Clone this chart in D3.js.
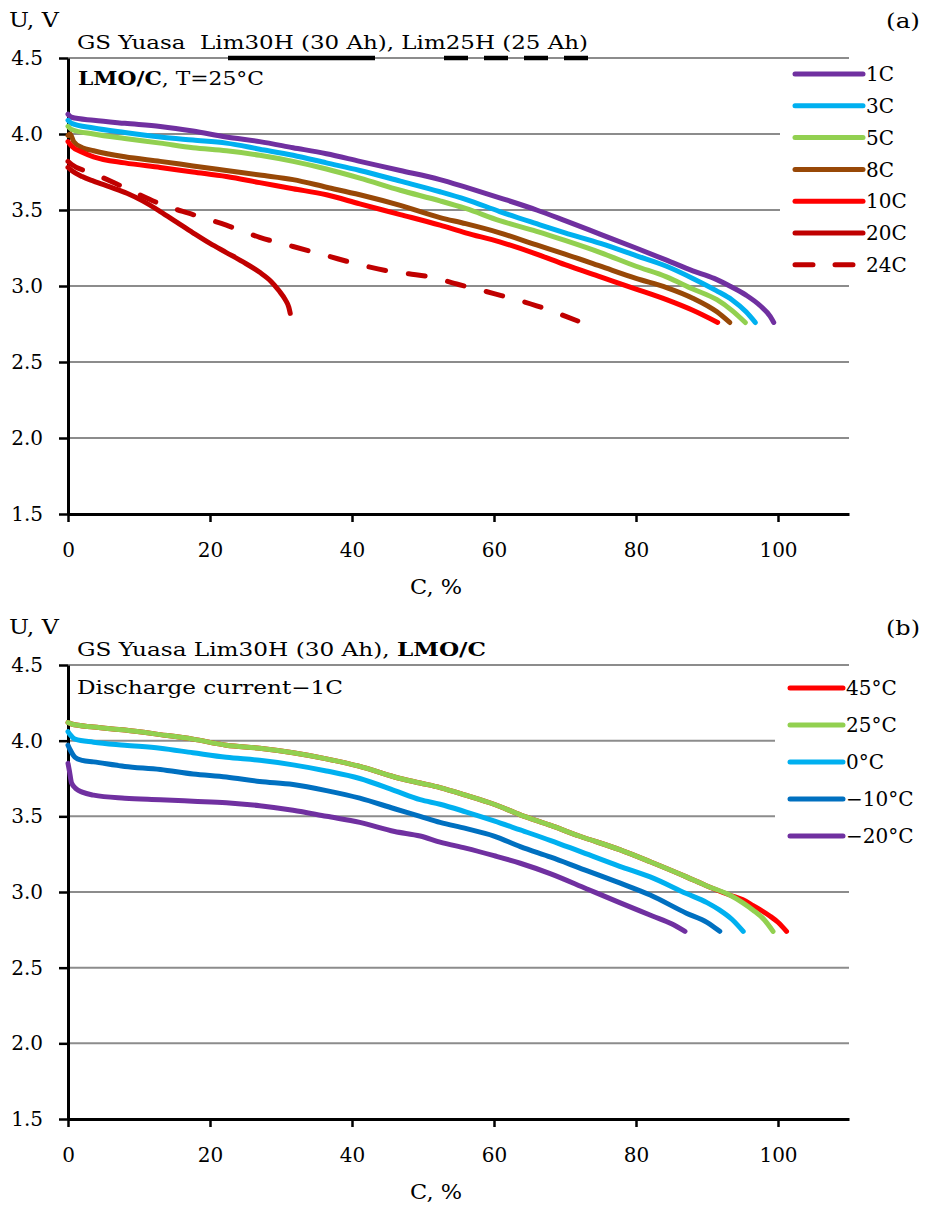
<!DOCTYPE html>
<html><head><meta charset="utf-8">
<script src="https://cdn.jsdelivr.net/npm/d3@7"></script>
<style>
html,body{margin:0;padding:0;background:#fff;}
text{font-family:"DejaVu Serif",serif;fill:#000;}
</style></head>
<body><div id="chart"></div>
<script>
// ---------- data ----------
const xTicks = [0, 20, 40, 60, 80, 100];
const yTicks = [1.5, 2.0, 2.5, 3.0, 3.5, 4.0, 4.5];

// Panel (a): discharge rate, T = 25°C
const rateLabels = ["1C", "3C", "5C", "8C", "10C", "20C", "24C"];
const rateColors = ["#7030A0", "#00B0F0", "#92D050", "#984807", "#FF0000", "#C00000", "#C00000"];
const rateDashed = [false, false, false, false, false, false, true];
const rate1C = [[0,4.13],[0.5,4.11],[3.6,4.09],[8,4.07],[13,4.05],[17.6,4.02],[22.3,3.98],[27,3.95],[31.7,3.91],[36.4,3.87],[41.1,3.82],[46.8,3.76],[52.4,3.70],[56,3.65],[60.8,3.58],[66,3.50],[70,3.43],[75,3.34],[80,3.25],[84.3,3.17],[88,3.10],[91,3.05],[93.2,3.00],[95.5,2.94],[97.5,2.87],[98.9,2.80],[99.4,2.76]];
const rate3C = [[0,4.09],[0.5,4.07],[3.6,4.04],[8,4.01],[13,3.98],[17.6,3.96],[22.3,3.94],[27,3.90],[31.7,3.86],[36.4,3.81],[41.1,3.76],[46.8,3.69],[52.4,3.62],[56,3.57],[60.8,3.49],[66,3.41],[70,3.35],[75,3.28],[80,3.20],[84.3,3.13],[88,3.05],[91.3,2.97],[93.5,2.91],[95.5,2.83],[96.8,2.76]];
const rate5C = [[0,4.05],[0.5,4.03],[3.6,4.00],[8,3.97],[13,3.94],[17.6,3.91],[22.3,3.89],[27,3.86],[31.7,3.82],[36.4,3.77],[41.1,3.71],[46.8,3.63],[52.4,3.56],[56,3.51],[60.8,3.43],[66,3.36],[70,3.30],[75,3.22],[80,3.13],[84.3,3.06],[88,2.98],[91.4,2.91],[93.5,2.84],[95.4,2.76]];
const rate8C = [[0,3.99],[0.3,4.00],[0.8,3.95],[2,3.91],[3.6,3.89],[8,3.85],[13,3.82],[17.6,3.79],[22.3,3.76],[27,3.73],[31.7,3.70],[36.4,3.65],[41.1,3.60],[46.8,3.53],[52.4,3.45],[56,3.41],[60.8,3.35],[66,3.27],[70,3.21],[75,3.13],[80,3.05],[84.3,2.99],[88,2.92],[91.4,2.83],[93.2,2.76]];
const rate10C = [[0,3.95],[0.5,3.92],[2,3.88],[3.6,3.85],[8,3.81],[13,3.78],[17.6,3.75],[22.3,3.72],[27,3.68],[31.7,3.64],[36.4,3.60],[41.1,3.54],[46.8,3.47],[52.4,3.40],[56,3.35],[60.8,3.29],[66,3.21],[70,3.14],[75,3.06],[80,2.98],[84.3,2.91],[88,2.84],[91.5,2.76]];
const rate20C = [[0,3.78],[0.5,3.76],[2,3.72],[3.6,3.69],[6,3.65],[8.3,3.61],[10.5,3.56],[13,3.49],[15.3,3.42],[17.6,3.35],[20,3.28],[22.3,3.22],[24.6,3.16],[27,3.09],[28.6,3.03],[29.7,2.97],[30.6,2.91],[31.1,2.86],[31.3,2.82]];
const rate24C = [[0,3.82],[0.5,3.80],[3.6,3.74],[8.3,3.64],[13,3.54],[17.6,3.47],[22.3,3.40],[27,3.32],[31.7,3.26],[36.4,3.20],[41.1,3.14],[45,3.10],[48,3.08],[51,3.06],[55,3.01],[60,2.95],[66,2.87],[69,2.82],[71.8,2.77]];
const rateSeries = [rate1C, rate3C, rate5C, rate8C, rate10C, rate20C, rate24C];

// Panel (b): temperature, 1C discharge
const tempLabels = ["45°C", "25°C", "0°C", "−10°C", "−20°C"];
const tempColors = ["#FF0000", "#92D050", "#00B0F0", "#0070C0", "#7030A0"];
const temp45 = [[0,4.12],[0.5,4.11],[3.6,4.09],[8,4.07],[13,4.04],[17.6,4.01],[22.3,3.97],[27,3.95],[31.7,3.92],[36.4,3.88],[41.1,3.83],[46,3.76],[49.6,3.72],[52.4,3.69],[56,3.64],[60,3.58],[63.7,3.51],[68,3.44],[72,3.37],[77.7,3.28],[82,3.20],[87.1,3.10],[90,3.04],[93.2,2.98],[95,2.95],[96.5,2.91],[98.9,2.84],[100,2.80],[101.2,2.74]];
const temp25 = [[0,4.12],[0.5,4.11],[3.6,4.09],[8,4.07],[13,4.04],[17.6,4.01],[22.3,3.97],[27,3.95],[31.7,3.92],[36.4,3.88],[41.1,3.83],[46,3.76],[49.6,3.72],[52.4,3.69],[56,3.64],[60,3.58],[63.7,3.51],[68,3.44],[72,3.37],[77.7,3.28],[82,3.20],[87.1,3.10],[90,3.04],[93.2,2.98],[95,2.93],[96.5,2.88],[98,2.82],[99.3,2.74]];
const temp0 = [[0,4.06],[0.3,4.04],[1,4.01],[3.6,3.99],[8,3.97],[13,3.95],[17.6,3.92],[22.3,3.89],[27,3.87],[31.7,3.84],[36.4,3.80],[41.1,3.75],[46,3.67],[49.6,3.61],[52.4,3.58],[56,3.53],[60,3.47],[63.7,3.41],[68,3.34],[72,3.27],[77.7,3.17],[82,3.10],[87.1,2.99],[90,2.93],[91.8,2.88],[93.5,2.82],[95.1,2.74]];
const tempM10 = [[0,3.97],[0.3,3.94],[1,3.89],[2,3.87],[3.6,3.86],[8,3.83],[13,3.81],[17.6,3.78],[22.3,3.76],[27,3.73],[31.7,3.71],[36.4,3.67],[41.1,3.62],[46,3.55],[49.6,3.50],[52.4,3.46],[56,3.42],[60,3.37],[63.7,3.30],[68,3.23],[72,3.16],[77.7,3.06],[82,2.98],[87.1,2.86],[90,2.80],[91.8,2.74]];
const tempM20 = [[0,3.85],[0.2,3.80],[0.5,3.72],[1.2,3.68],[2,3.66],[3.6,3.64],[8,3.62],[13,3.61],[17.6,3.60],[22.3,3.59],[27,3.57],[31.7,3.54],[36.4,3.50],[41.1,3.46],[46,3.40],[49.6,3.37],[52.4,3.33],[56,3.29],[60,3.24],[63.7,3.19],[68,3.12],[73.1,3.02],[77.7,2.93],[82.4,2.84],[85,2.79],[86.9,2.74]];
const tempSeries = [temp45, temp25, temp0, tempM10, tempM20];

// ---------- drawing ----------
const W = 926, H = 1207;
const svg = d3.select("#chart").append("svg").attr("width", W).attr("height", H);
svg.append("rect").attr("width", W).attr("height", H).attr("fill", "#fff");

const X0 = 68, X1 = 849;

function drawPanel(cfg) {
  const g = svg.append("g");
  const x = d3.scaleLinear().domain([0, 110]).range([X0, X1]);
  const y = d3.scaleLinear().domain([1.5, 4.5]).range([cfg.bottom, cfg.top]);

  // gridlines
  g.selectAll(".grid").data(yTicks.filter(d => d > 1.5)).join("line")
    .attr("x1", X0).attr("x2", X1)
    .attr("y1", d => y(d)).attr("y2", d => y(d))
    .attr("stroke", "#8c8c8c").attr("stroke-width", 2);

  // legend background
  g.append("rect").attr("x", cfg.legBoxX).attr("y", cfg.top + 5)
    .attr("width", W - cfg.legBoxX).attr("height", cfg.legBoxH).attr("fill", "#fff");

  // axes
  const ya = g.append("g").attr("transform", `translate(${X0},0)`)
    .call(d3.axisLeft(y).tickValues(yTicks).tickFormat(d3.format(".1f")).tickSize(9).tickSizeOuter(0).tickPadding(16));
  const xa = g.append("g").attr("transform", `translate(0,${cfg.bottom})`)
    .call(d3.axisBottom(x).tickValues(xTicks).tickFormat(d3.format("d")).tickSize(8).tickSizeOuter(0).tickPadding(21));
  [ya, xa].forEach(a => {
    a.select(".domain").attr("stroke", "#000").attr("stroke-width", 3);
    a.selectAll(".tick line").attr("stroke", "#000").attr("stroke-width", 2.5);
    a.selectAll("text").attr("font-family", "DejaVu Serif").attr("font-size", 20).attr("fill", "#000");
  });

  // curves
  const line = d3.line().x(d => x(d[0])).y(d => y(d[1])).curve(d3.curveMonotoneX);
  cfg.series.forEach((s, i) => {
    g.append("path").datum(s).attr("d", line)
      .attr("fill", "none").attr("stroke", cfg.colors[i]).attr("stroke-width", 5)
      .attr("stroke-linecap", "round").attr("stroke-linejoin", "round")
      .attr("stroke-dasharray", cfg.dashed && cfg.dashed[i] ? "17,23" : null);
  });

  // legend
  const lg = g.append("g");
  cfg.labels.forEach((lab, i) => {
    const ly = cfg.top + cfg.legY0 + i * cfg.legStep;
    lg.append("line").attr("x1", cfg.legX1).attr("x2", cfg.legX2).attr("y1", ly).attr("y2", ly)
      .attr("stroke", cfg.colors[i]).attr("stroke-width", 5).attr("stroke-linecap", "round")
      .attr("stroke-dasharray", cfg.dashed && cfg.dashed[i] ? "18,22" : null);
    lg.append("text").attr("x", cfg.legX2 + 3).attr("y", ly).attr("dy", "0.36em")
      .attr("font-size", 20).text(lab);
  });

  // axis titles and panel letter
  g.append("text").attr("x", 9).attr("y", cfg.top - 31).attr("font-size", 20)
    .attr("textLength", 50).attr("lengthAdjust", "spacingAndGlyphs").text("U, V");
  g.append("text").attr("x", 886).attr("y", cfg.top - 30).attr("font-size", 20)
    .attr("textLength", 34).attr("lengthAdjust", "spacingAndGlyphs").text(cfg.letter);
  g.append("text").attr("x", 410).attr("y", cfg.bottom + 80).attr("font-size", 20)
    .attr("textLength", 52).attr("lengthAdjust", "spacingAndGlyphs").text("C, %");
  return {g, x, y};
}

function fit(sel, w) { return sel.attr("textLength", w).attr("lengthAdjust", "spacingAndGlyphs"); }

// Panel (a)
const pa = drawPanel({
  top: 58, bottom: 514, letter: "(a)",
  series: rateSeries, colors: rateColors, dashed: rateDashed, labels: rateLabels,
  legBoxX: 780, legBoxH: 220, legY0: 16, legStep: 31.8, legX1: 795, legX2: 863
});
// title lines (a)
const ta = pa.g.append("text").attr("x", 77).attr("y", 49).attr("font-size", 19);
ta.append("tspan").text("GS Yuasa\u00A0\u00A0Lim30H (30 Ah), Lim25H (25 Ah)");
fit(ta, 511);
const la = pa.g.append("text").attr("x", 78).attr("y", 85).attr("font-size", 19);
la.append("tspan").attr("font-weight", "bold").text("LMO/C");
la.append("tspan").text(", T=25°C");
fit(la, 186);
// cell-type line keys under the title
pa.g.append("line").attr("x1", 228).attr("x2", 375).attr("y1", 58).attr("y2", 58)
  .attr("stroke", "#000").attr("stroke-width", 4.5);
pa.g.append("line").attr("x1", 444).attr("x2", 588).attr("y1", 58).attr("y2", 58)
  .attr("stroke", "#000").attr("stroke-width", 4.5).attr("stroke-dasharray", "24,16");

// Panel (b)
const pb = drawPanel({
  top: 665, bottom: 1119, letter: "(b)",
  series: tempSeries, colors: tempColors, dashed: null, labels: tempLabels,
  legBoxX: 775, legBoxH: 190, legY0: 23, legStep: 37, legX1: 790, legX2: 843
});
const tb = pb.g.append("text").attr("x", 77).attr("y", 656).attr("font-size", 19);
tb.append("tspan").text("GS Yuasa Lim30H (30 Ah), ");
tb.append("tspan").attr("font-weight", "bold").text("LMO/C");
fit(tb, 409);
fit(pb.g.append("text").attr("x", 77).attr("y", 694).attr("font-size", 19).text("Discharge current−1C"), 266);
</script>
</body></html>
